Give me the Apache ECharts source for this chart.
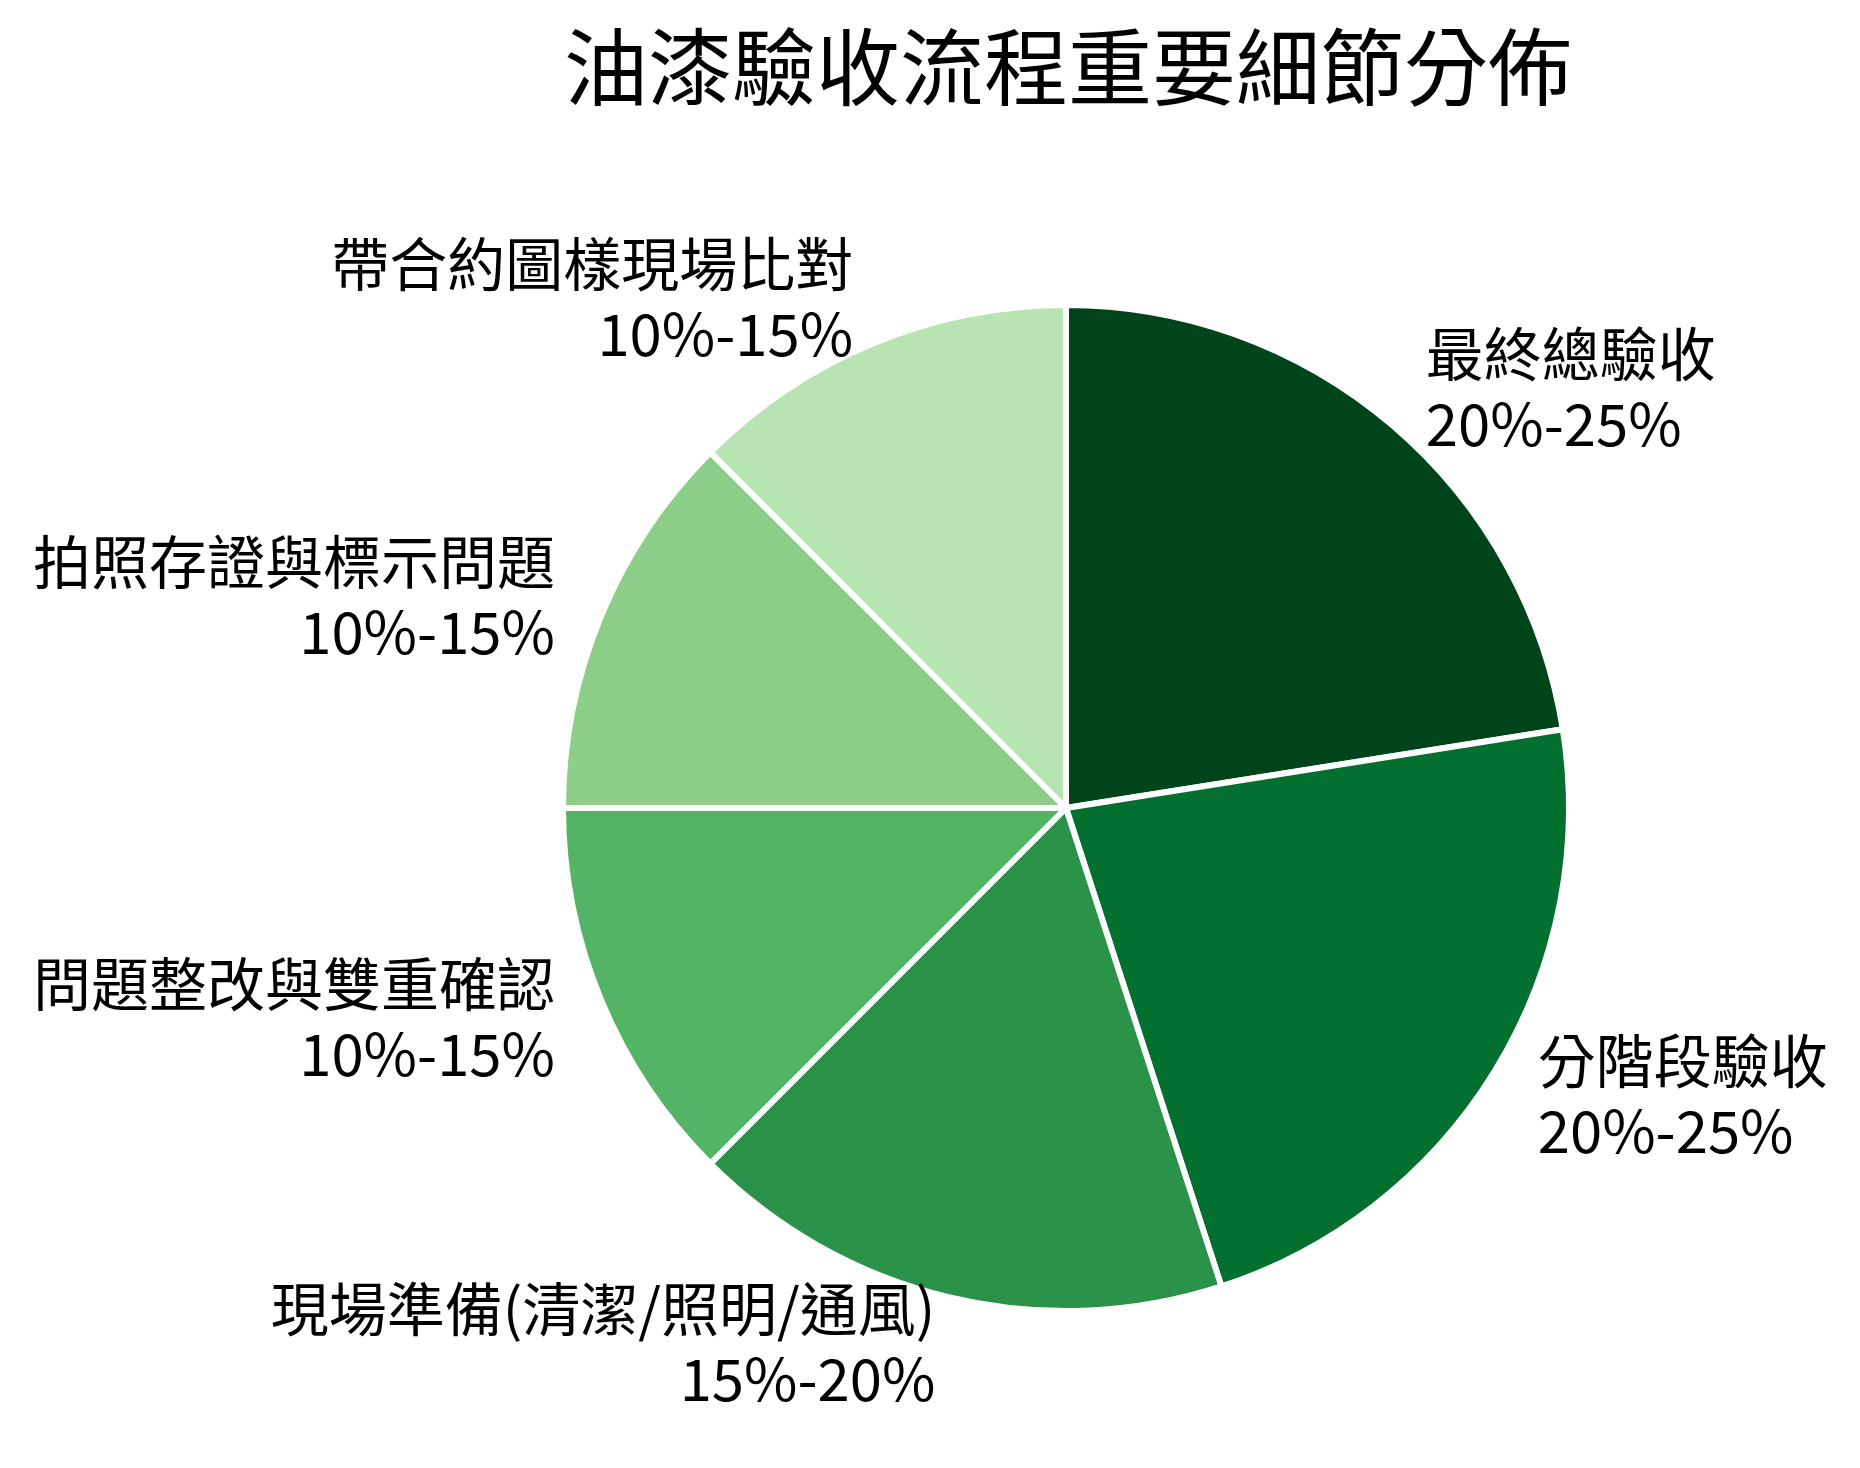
<!DOCTYPE html>
<html>
<head>
<meta charset="utf-8">
<script src="https://cdn.jsdelivr.net/npm/echarts@6/dist/echarts.min.js"></script>
<style>
html,body{margin:0;padding:0;background:#fff;}
#chart{width:1860px;height:1468px;}
</style>
</head>
<body>
<div id="chart"></div>
<script>
const titleText = '油漆驗收流程重要細節分佈';
const categories = ['最終總驗收', '分階段驗收', '現場準備(清潔/照明/通風)', '問題整改與雙重確認', '拍照存證與標示問題', '帶合約圖樣現場比對'];
const rangeLabels = ['20%-25%', '20%-25%', '15%-20%', '10%-15%', '10%-15%', '10%-15%'];
const values = [22.5, 22.5, 17.5, 12.5, 12.5, 12.5];
const colors = ['#00441b', '#04702f', '#2b924a', '#54b466', '#8ccd87', '#b8e3b2'];

const font = '"Noto Sans CJK TC", "Noto Sans CJK SC", sans-serif';
const chart = echarts.init(document.getElementById('chart'), null, {renderer: 'canvas'});
chart.setOption({
  backgroundColor: '#ffffff',
  animation: false,
  title: {
    text: titleText,
    left: 1063,
    top: 20,
    textAlign: 'center',
    textStyle: {fontFamily: font, fontSize: 84, fontWeight: 'normal', color: '#000'}
  },
  series: [{
    type: 'pie',
    center: [1066, 808],
    radius: 503,
    startAngle: 90,
    clockwise: true,
    avoidLabelOverlap: false,
    itemStyle: {borderColor: '#ffffff', borderWidth: 6},
    label: {
      show: true,
      position: 'outside',
      distanceToLabelLine: 2,
      fontFamily: font,
      fontSize: 58,
      lineHeight: 70,
      padding: [0, 0, 8, 0],
      color: '#000',
      formatter: function (p) { return p.name + '\n' + rangeLabels[p.dataIndex]; }
    },
    labelLine: {show: false, length: 48, length2: 0},
    emphasis: {disabled: true},
    data: categories.map(function (c, i) {
      return {name: c, value: values[i], itemStyle: {color: colors[i]}};
    })
  }]
});
</script>
</body>
</html>
